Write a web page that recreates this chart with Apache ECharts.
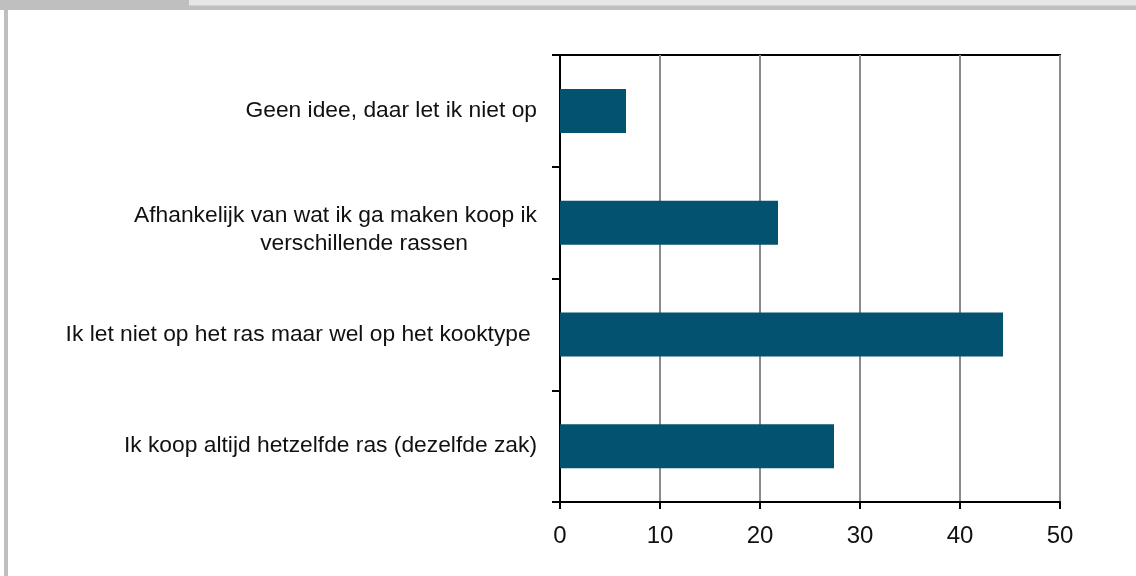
<!DOCTYPE html>
<html>
<head>
<meta charset="utf-8">
<script src="https://cdn.jsdelivr.net/npm/echarts@6/dist/echarts.min.js"></script>
<style>
  html, body { margin: 0; padding: 0; background: #ffffff; }
  #chart { width: 1136px; height: 576px; }
</style>
</head>
<body>
<div id="chart"></div>
<script>
// Answer options, listed top to bottom
const categories = [
  'Geen idee, daar let ik niet op',
  'Afhankelijk van wat ik ga maken koop ik\nverschillende rassen',
  'Ik let niet op het ras maar wel op het kooktype ',
  'Ik koop altijd hetzelfde ras (dezelfde zak)'
];
// Share of respondents (%)
const percentages = [6.6, 21.8, 44.3, 27.4];
// Value axis ticks
const xTicks = [0, 10, 20, 30, 40, 50];

const chart = echarts.init(document.getElementById('chart'), null, { renderer: 'canvas' });

const labelFont = '"Liberation Sans", Arial, sans-serif';

// Two-line labels: a short spacer line nudges the pair slightly below the band centre,
// and the second line sits a little to the right of the first line's end
function formatCategory(value) {
  const lines = value.split('\n');
  if (lines.length === 1) return value;
  return '{sp| }\n{l1|' + lines[0] + '}\n{l2|' + lines[1] + '}';
}

chart.setOption({
  animation: false,
  backgroundColor: '#ffffff',
  graphic: [
    { type: 'rect', shape: { x: 0, y: 0, width: 1136, height: 10 }, style: { fill: '#bfbfbf' }, silent: true },
    { type: 'rect', shape: { x: 189, y: 0, width: 947, height: 5.5 }, style: { fill: '#e6e6e6' }, silent: true },
    { type: 'rect', shape: { x: 4, y: 10, width: 4, height: 566 }, style: { fill: '#bfbfbf' }, silent: true }
  ],
  grid: {
    left: 560,
    right: 76,
    top: 55,
    bottom: 74,
    show: true,
    borderColor: '#000000',
    borderWidth: 2,
    containLabel: false
  },
  xAxis: {
    type: 'value',
    min: xTicks[0],
    max: xTicks[xTicks.length - 1],
    interval: 10,
    axisLine: { show: true, lineStyle: { color: '#000000', width: 2 } },
    axisTick: { show: true, length: 7, lineStyle: { color: '#000000', width: 2 } },
    axisLabel: {
      color: '#111111',
      fontFamily: labelFont,
      fontSize: 24,
      margin: 22
    },
    splitLine: { show: true, lineStyle: { color: '#8a8a8a', width: 2 } }
  },
  yAxis: {
    type: 'category',
    data: categories,
    inverse: true,
    boundaryGap: true,
    axisLine: { show: true, lineStyle: { color: '#000000', width: 2 } },
    axisTick: { show: true, length: 8, alignWithLabel: false, lineStyle: { color: '#000000', width: 2 } },
    axisLabel: {
      color: '#111111',
      fontFamily: labelFont,
      fontSize: 22.8,
      margin: 23,
      lineHeight: 28,
      formatter: formatCategory,
      rich: {
        sp: { fontSize: 8, lineHeight: 14 },
        l1: { fontFamily: labelFont, fontSize: 22.8, color: '#111111', lineHeight: 28 },
        l2: { fontFamily: labelFont, fontSize: 22.8, color: '#111111', lineHeight: 28, padding: [0, 69, 0, 0] }
      }
    },
    splitLine: { show: false }
  },
  series: [
    {
      type: 'bar',
      data: percentages,
      barWidth: 44,
      itemStyle: { color: '#025270' },
      label: { show: false }
    }
  ]
});
</script>
</body>
</html>
